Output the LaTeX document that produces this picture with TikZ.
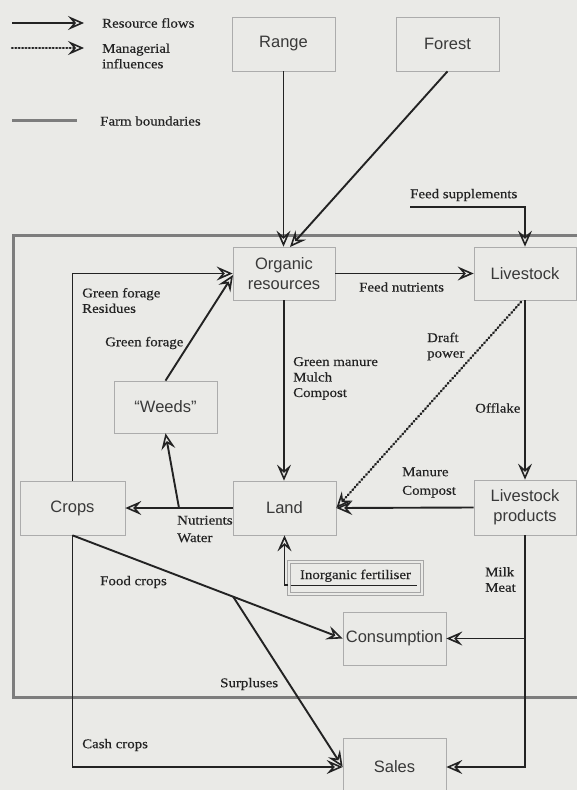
\documentclass[tikz,border=0pt]{standalone}
\usepackage{fontspec}
\setmainfont{Liberation Serif}[FakeStretch=1.12, FakeBold=0.4]
\newfontfamily\boxfont{Liberation Sans}
\usetikzlibrary{arrows.meta}
\definecolor{bgc}{RGB}{234,234,231}
\definecolor{ink}{RGB}{35,35,35}
\definecolor{bnd}{RGB}{125,125,125}
\tikzset{
  tip/.style={-{Stealth[open, length=16pt, width=14pt, inset=6pt, line width=1.6pt]}},
  box/.style={draw=gray!65, line width=0.7pt, minimum width=103pt, minimum height=54pt,
    inner sep=0pt, font=\boxfont\fontsize{16.5}{20}\selectfont, text=ink!90, align=center},
  flow/.style={draw=ink, line width=1.9pt, tip},
  mgmt/.style={draw=ink, line width=2.4pt, line cap=round, dash pattern=on 0.8pt off 2.6pt, tip},
  lbl/.style={font=\fontsize{13.3}{15.5}\selectfont, text=ink, inner sep=0pt, anchor=west, align=left},
  bound/.style={draw=bnd, line width=3pt},
}
\begin{document}
\begin{tikzpicture}[x=1pt, y=-1pt]
\useasboundingbox (0,0) rectangle (577,790);
\clip (0,0) rectangle (577,790);
\fill[bgc] (0,0) rectangle (577,790);

% farm boundary
\draw[bound] (13,235) rectangle (600,697);

% legend
\coordinate (la1) at (12,23);
\coordinate (la2) at (84,23);
\draw[flow] (la1) -- (la2);
\node[lbl] (lt1) at (102,23) {Resource flows};
\coordinate (lb1) at (12,48);
\coordinate (lb2) at (84,48);
\draw[mgmt] (lb1) -- (lb2);
\node[lbl] (lt2) at (102,56) {Managerial\\influences};
\coordinate (lc1) at (12,120);
\coordinate (lc2) at (77,120);
\draw[bound] (lc1) -- (lc2);
\node[lbl] (lt3) at (100,121) {Farm boundaries};

% boxes
\node[box] (range) at (283.5,44) {Range};
\node[box] (forest) at (447.5,44) {Forest};
\node[box, minimum width=102pt, minimum height=53pt] (org) at (284,273.5) {Organic\\resources};
\node[box, minimum width=102pt, minimum height=53pt] (live) at (525,273.5) {Livestock};
\node[box, minimum height=52pt] (weeds) at (165.5,407) {“Weeds”};
\node[box, minimum width=105pt] (crops) at (72.5,508) {Crops};
\node[box] (land) at (284.5,508) {Land};
\node[box, minimum width=102pt, minimum height=55pt] (lp) at (525,507.5) {Livestock\\products};
\node[box, minimum height=53pt] (cons) at (394.5,638.5) {Consumption};
\node[box, minimum height=58pt] (sales) at (394.5,767) {Sales};
\node[draw=gray!70, line width=0.9pt, double=bgc, double distance=2pt,
      minimum width=133pt, minimum height=32pt, inner sep=0pt,
      font=\fontsize{13.3}{15.5}\selectfont, text=ink, text height=9pt, text depth=7pt]
      (fert) at (355.5,578) {Inorganic fertiliser};
\draw[ink, line width=1.5pt] ([xshift=2pt,yshift=9pt]fert.south west) -- ([xshift=-5pt,yshift=9pt]fert.south east);

% connectors
\draw[flow] (range.south) -- (range.south |- org.north);
\coordinate (orgF) at (290,247);
\draw[flow] (forest.south) -- (orgF);
\coordinate (fs) at (410,207);
\draw[flow] (fs) -| (live.north);
\draw[flow] (org.east) -- (live.west);
\draw[flow] (org.south) -- (org.south |- land.north);
\draw[flow] (live.south) -- (lp.north);
\coordinate (dS) at (521,302);
\draw[mgmt] (dS) -- (land.east);
\draw[flow] (lp.west) -- (land.east);
\draw[flow] (land.west) -- (crops.east);
\coordinate (nw) at (179,508);
\draw[flow] (nw) -- (weeds.south);
\coordinate (orgW) at (233,275);
\draw[flow] (weeds.north) -- (orgW);
\draw[flow] (crops.north) |- (org.west);
\draw[flow] (crops.south) -- (cons.west);
\coordinate (sp) at (233,596.4);
\draw[flow] (sp) -- (sales.west);
\draw[flow] (crops.south) |- (sales.west);
\draw[flow] (lp.south) |- (sales.east);
\coordinate (lcn) at (525,638.5);
\draw[flow] (lcn) -- (cons.east);
\coordinate (fl) at (288,585);
\draw[flow] (fl) -| (land.south);

% labels
\node[lbl] at (410,195) {Feed supplements};
\node[lbl] at (82,300.5) {Green forage\\Residues};
\node[lbl] at (105,343) {Green forage};
\node[lbl] at (293,378.5) {Green manure\\Mulch\\Compost};
\node[lbl] at (359,287) {Feed nutrients};
\node[lbl] at (427,346.5) {Draft\\power};
\node[lbl] at (475,408) {Offlake};
\node[lbl] at (402,482.5) {Manure\\[3pt]Compost};
\node[lbl] at (177,529) {Nutrients\\[2pt]Water};
\node[lbl] at (100,582) {Food crops};
\node[lbl] at (485,579.5) {Milk\\Meat};
\node[lbl] at (220,684) {Surpluses};
\node[lbl] at (82,745) {Cash crops};
\end{tikzpicture}
\end{document}
